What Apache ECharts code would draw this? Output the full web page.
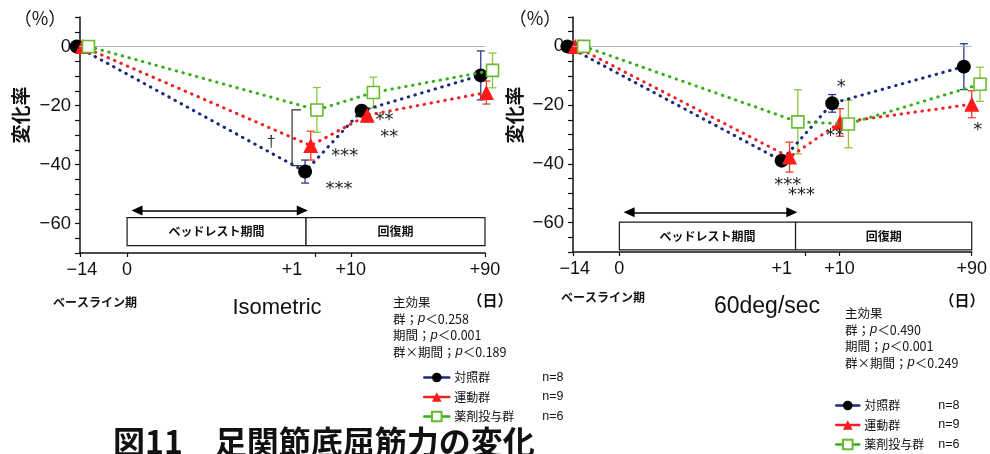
<!DOCTYPE html>
<html>
<head>
<meta charset="utf-8">
<script src="https://cdn.jsdelivr.net/npm/echarts@6/dist/echarts.min.js"></script>
<style>
  html, body { margin: 0; padding: 0; background: #fff; }
  #chart { width: 990px; height: 454px; }
</style>
</head>
<body>
<div id="chart"></div>
<script>
// ---- data -------------------------------------------------------------
const timeLabels = ['−14', '0', '+1', '+10', '+90'];
const groupNames = ['対照群', '運動群', '薬剤投与群'];
const groupSizes = [8, 9, 6];
const panelTitles = ['Isometric', '60deg/sec'];
const periodNames = ['ベッドレスト期間', '回復期'];
const effectNames = ['群', '期間', '群×期間'];
const isoPValues = ['0.258', '0.001', '0.189'];
const velPValues = ['0.490', '0.001', '0.249'];

// % change at -14, +1, +10, +90 days (mean and SD) — isometric
const isoControl = [0, -42.4, -21.8, -9.8];
const isoControlSD = [0, 3.9, 1.5, 8.3];
const isoExercise = [0, -33.6, -23.3, -15.6];
const isoExerciseSD = [0, 4.9, 2.2, 3.9];
const isoDrug = [0, -21.5, -15.6, -8.1];
const isoDrugSD = [0, 7.6, 5.2, 5.9];
const isoControlSig = ['', '***', '**', ''];
const isoExerciseSig = ['', '***', '**', ''];
const isoDrugSig = ['', '', '', ''];

// % change at -14, +1, +10, +90 days (mean and SD) — 60 deg/sec
const velControl = [0, -38.9, -19.4, -6.9];
const velControlSD = [0, 1.5, 3.0, 7.8];
const velExercise = [0, -37.7, -25.9, -19.7];
const velExerciseSD = [0, 5.1, 4.7, 4.6];
const velDrug = [0, -25.7, -26.4, -12.9];
const velDrugSD = [0, 10.9, 8.1, 5.8];
const velControlSig = ['', '***', '*', ''];
const velExerciseSig = ['', '***', '**', '*'];
const velDrugSig = ['', '', '', ''];

// ---- layout & style ----------------------------------------------------
const JP = '"Noto Sans CJK JP", sans-serif';
const LAT = '"Liberation Sans", Arial, sans-serif';

// the time axis is a layout axis: each day label sits at a fixed place on it
const axisLayout = {
  max: 86,
  tickPos: [0, 10, 50, 57.5, 86],
  labelPos: [0.4, 10, 45, 57.5, 86],
  periodEdges: [10, 48, 86],
  arrowSpan: [12.1, 47.2]
};

const panels = [
  {
    grid: { left: 80, top: 17, width: 405, height: 236 },
    pointPos: [0.5, 49, 61, 86.3],
    dodge: [-1.2, 0, 1.3],
    box: [-58, -67.5],
    arrowY: -55.6,
    means: [isoControl, isoExercise, isoDrug],
    sds: [isoControlSD, isoExerciseSD, isoDrugSD],
    sig: [isoControlSig, isoExerciseSig, isoDrugSig],
    sigOffset: [
      [null, [34, 18], [23, 10], null],
      [null, [34, 11], [22, 22], null],
      [null, null, null, null]
    ],
    bracket: true
  },
  {
    grid: { left: 573, top: 17, width: 404, height: 235 },
    pointPos: [0.5, 46.7, 57.6, 86],
    dodge: [-1.7, 0, 1.8],
    box: [-59.8, -69.3],
    arrowY: -56.5,
    means: [velControl, velExercise, velDrug],
    sds: [velControlSD, velExerciseSD, velDrugSD],
    sig: [velControlSig, velExerciseSig, velDrugSig],
    sigOffset: [
      [null, [6, 25], [9, -16], null],
      [null, [12, 38], [-5, 14], [6, 26]],
      [null, null, null, null]
    ],
    bracket: false
  }
];

const groupStyle = [
  { symbol: 'circle', size: 14, fill: '#000', border: '#000', borderWidth: 0, line: '#1b2a7a', bar: '#2a3b8f' },
  { symbol: 'triangle', size: 15, fill: '#ff1a1a', border: '#ff1a1a', borderWidth: 0, line: '#ee2020', bar: '#e8402a' },
  { symbol: 'rect', size: 12, fill: '#fff', border: '#66bb2e', borderWidth: 1.6, line: '#3aad1c', bar: '#8cc640' }
];

// ---- build options -----------------------------------------------------
const grids = [], xAxes = [], yAxes = [], series = [];

panels.forEach((p, pi) => {
  grids.push(p.grid);
  xAxes.push({
    type: 'value', gridIndex: pi, min: 0, max: axisLayout.max,
    axisLine: { show: true, onZero: false, lineStyle: { color: '#111', width: 1.5 } },
    axisTick: { show: true, length: 4, customValues: axisLayout.tickPos, lineStyle: { color: '#111', width: 1.2 } },
    axisLabel: {
      customValues: axisLayout.labelPos, margin: 8,
      fontSize: 18, fontFamily: LAT, color: '#111',
      formatter: v => timeLabels[axisLayout.labelPos.indexOf(v)]
    },
    splitLine: { show: false }
  });
  yAxes.push({
    type: 'value', gridIndex: pi, min: -70, max: 10, interval: 5,
    axisLine: { show: true, lineStyle: { color: '#111', width: 1.5 } },
    axisTick: { show: true, length: 5, lineStyle: { color: '#111', width: 1.2 } },
    axisLabel: {
      margin: 9, fontSize: 18.5, fontFamily: LAT, color: '#111',
      formatter: v => (v % 20 === 0 ? (v < 0 ? '−' + (-v) : String(v)) : '')
    },
    splitLine: { show: false }
  });

  groupNames.forEach((name, gi) => {
    const st = groupStyle[gi];
    const xs = p.pointPos.map(v => v + p.dodge[gi]);
    const means = p.means[gi];
    const sds = p.sds[gi];

    // error bars
    series.push({
      type: 'custom', name: name + ' SD', xAxisIndex: pi, yAxisIndex: pi,
      z: 2, silent: true, clip: false,
      encode: { x: 0, y: 1 },
      data: xs.map((x, ti) => [x, means[ti], sds[ti]]),
      renderItem: (params, api) => {
        const x = api.value(0), m = api.value(1), s = api.value(2);
        if (!s) return null;
        const hi = api.coord([x, m + s]);
        const lo = api.coord([x, m - s]);
        const c = 4;
        const sty = { stroke: st.bar, lineWidth: 1.3 };
        return {
          type: 'group',
          children: [
            { type: 'line', shape: { x1: hi[0], y1: hi[1], x2: lo[0], y2: lo[1] }, style: sty },
            { type: 'line', shape: { x1: hi[0] - c, y1: hi[1], x2: hi[0] + c, y2: hi[1] }, style: sty },
            { type: 'line', shape: { x1: lo[0] - c, y1: lo[1], x2: lo[0] + c, y2: lo[1] }, style: sty }
          ]
        };
      }
    });

    const data = means.map((m, ti) => {
      const item = { value: [xs[ti], m] };
      const mark = p.sig[gi][ti];
      if (mark) {
        item.label = {
          show: true, formatter: mark, position: 'inside',
          offset: p.sigOffset[gi][ti],
          fontSize: 18, fontFamily: '"DejaVu Sans", sans-serif', color: '#222'
        };
      }
      return item;
    });

    const s = {
      type: 'line', name, xAxisIndex: pi, yAxisIndex: pi, data,
      symbol: st.symbol, symbolSize: st.size, clip: false, z: 3 + gi,
      showAllSymbol: true,
      itemStyle: { color: st.fill, borderColor: st.border, borderWidth: st.borderWidth },
      lineStyle: { color: st.line, width: 3, type: [0.5, 6.5], cap: 'round' },
      label: { show: false },
      emphasis: { disabled: true },
      animation: false
    };

    if (gi === 0) {
      // bed rest / recovery period boxes and the bed-rest arrow
      const e = axisLayout.periodEdges;
      s.markArea = {
        silent: true,
        itemStyle: { color: '#fff', borderColor: '#1a1a1a', borderWidth: 1.2, opacity: 1 },
        label: { show: true, position: 'inside', color: '#111', fontSize: 12, fontWeight: 'bold', fontFamily: JP },
        data: [
          [{ name: periodNames[0], xAxis: e[0], yAxis: p.box[0] }, { xAxis: e[1], yAxis: p.box[1] }],
          [{ name: periodNames[1], xAxis: e[1], yAxis: p.box[0] }, { xAxis: e[2], yAxis: p.box[1] }]
        ]
      };
      s.markLine = {
        silent: true, animation: false,
        symbol: ['triangle', 'triangle'], symbolSize: [10, 11],
        lineStyle: { color: '#000', width: 1.5, type: 'solid' },
        label: { show: false },
        data: [[{ coord: [axisLayout.arrowSpan[0], p.arrowY] }, { coord: [axisLayout.arrowSpan[1], p.arrowY] }]]
      };
    }
    if (gi === 1) {
      // zero reference line
      s.markLine = {
        silent: true, animation: false, symbol: 'none',
        label: { show: false },
        lineStyle: { color: '#b5b5b5', width: 1.2, type: 'solid' },
        data: [{ yAxis: 0 }]
      };
    }
    series.push(s);
  });

  if (p.bracket) {
    // control vs drug comparison at +1 day
    const cx = p.pointPos[1] + p.dodge[0];
    series.push({
      type: 'custom', name: 'bracket', xAxisIndex: pi, yAxisIndex: pi,
      z: 2, silent: true, clip: false, encode: { x: 0, y: 1 },
      data: [[cx, p.means[2][1], p.means[0][1]]],
      renderItem: (params, api) => {
        const top = api.coord([api.value(0), api.value(1)]);
        const bot = api.coord([api.value(0), api.value(2)]);
        const bx = top[0] - 13, arm = 9, by = bot[1] - 6;
        return {
          type: 'group',
          children: [
            { type: 'polyline', shape: { points: [[bx + arm, top[1]], [bx, top[1]], [bx, by], [bx + arm, by]] },
              style: { stroke: '#333', lineWidth: 1.2, fill: null } },
            { type: 'text', x: bx - 21, y: (top[1] + by) / 2 + 5,
              style: { text: '†', fontSize: 16, fontFamily: LAT, fill: '#333', align: 'center', verticalAlign: 'middle' } }
          ]
        };
      }
    });
  }
});

function label(x, y, text, opt) {
  return {
    type: 'text', x, y, silent: true,
    style: Object.assign({ text, fill: '#111', fontFamily: JP, fontSize: 13, align: 'center', verticalAlign: 'middle' }, opt || {})
  };
}

function statsBlock(x, y, pvals) {
  const lines = ['主効果'].concat(effectNames.map((e, i) => `${e}；{p|p}＜${pvals[i]}`));
  return {
    type: 'text', x, y, silent: true,
    style: {
      text: lines.join('\n'), fill: '#111', fontFamily: JP, fontSize: 12.5, lineHeight: 16.5,
      align: 'left', verticalAlign: 'top',
      rich: { p: { fontStyle: 'italic', fontFamily: LAT, fontSize: 13, lineHeight: 16.5, fill: '#111' } }
    }
  };
}

const graphics = [
  label(40, 18, '（%）', { fontSize: 18, fontFamily: JP }),
  label(535, 18, '（%）', { fontSize: 18, fontFamily: JP }),
  Object.assign(label(21, 115, '変化率', { fontSize: 19, fontWeight: 'bold' }), { rotation: Math.PI / 2 }),
  Object.assign(label(515, 115, '変化率', { fontSize: 19, fontWeight: 'bold' }), { rotation: Math.PI / 2 }),
  label(95, 302, 'ベースライン期', { fontSize: 12, fontWeight: 'bold' }),
  label(603, 297, 'ベースライン期', { fontSize: 12, fontWeight: 'bold' }),
  label(277, 308, panelTitles[0], { fontSize: 22, fontFamily: LAT }),
  label(767, 307, panelTitles[1], { fontSize: 23, fontFamily: LAT }),
  label(490, 300, '（日）', { fontSize: 15, fontWeight: 'bold' }),
  label(962, 300, '（日）', { fontSize: 15, fontWeight: 'bold' }),
  statsBlock(393, 294, isoPValues),
  statsBlock(845, 305, velPValues),
  label(113, 426, '図11　足関節底屈筋力の変化', { fontSize: 32, fontWeight: 'bold', align: 'left', verticalAlign: 'top' })
];

function legendFor(left, top, nameWidth, itemWidth, gap) {
  return {
    data: groupNames, left, top, orient: 'vertical', selectedMode: false,
    padding: 0, height: 60,
    itemWidth, itemHeight: 12, itemGap: gap,
    lineStyle: { type: 'solid', width: 2.5 },
    formatter: n => `{n|${n}}{c|n=${groupSizes[groupNames.indexOf(n)]}}`,
    textStyle: {
      fontSize: 12, color: '#111', fontFamily: JP,
      rich: {
        n: { width: nameWidth, fontSize: 12, fontFamily: JP, color: '#111' },
        c: { fontSize: 12.5, fontFamily: LAT, color: '#111' }
      }
    }
  };
}

const chart = echarts.init(document.getElementById('chart'), null, { renderer: 'canvas' });
chart.setOption({
  backgroundColor: '#fff',
  animation: false,
  grid: grids,
  xAxis: xAxes,
  yAxis: yAxes,
  legend: [legendFor(423, 371, 88, 25, 6.5), legendFor(835, 399, 74, 23, 6.5)],
  graphic: graphics,
  series
});
</script>
</body>
</html>
